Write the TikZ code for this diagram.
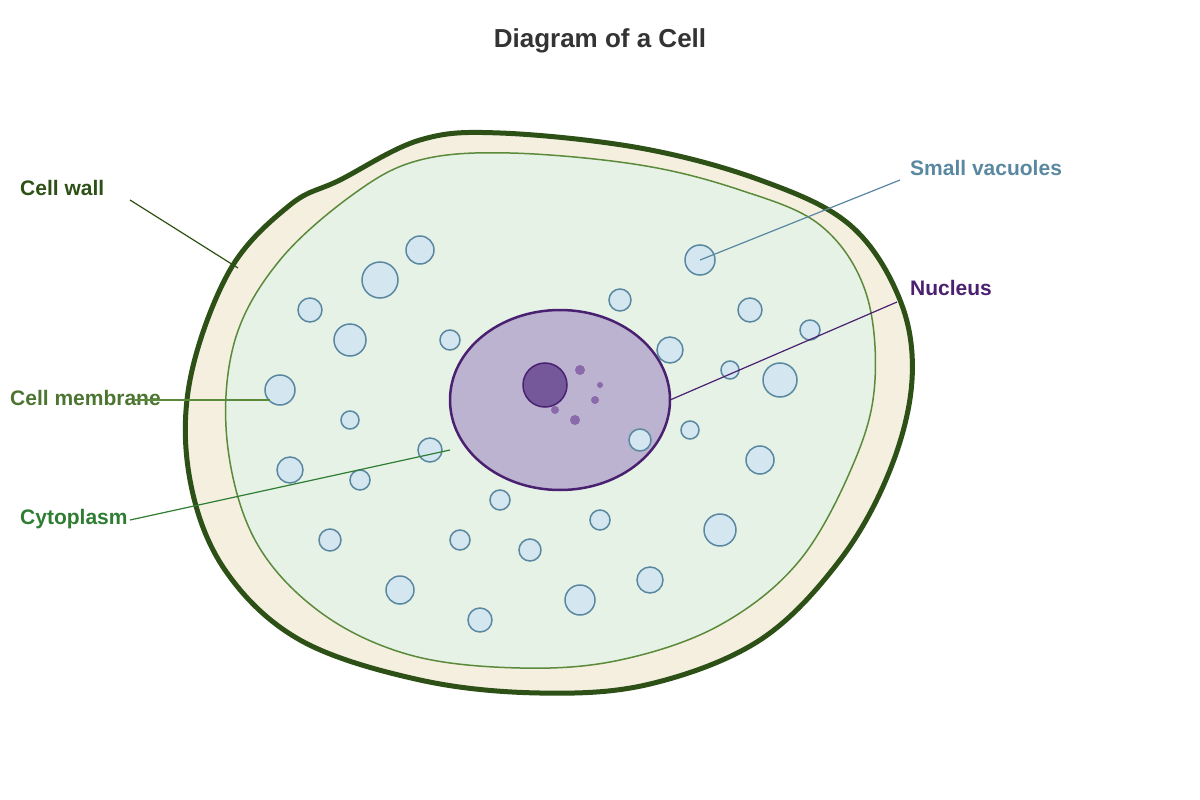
\documentclass[tikz,border=0pt]{standalone}
\usepackage{fontspec}
\usetikzlibrary{shapes.geometric}
\setmainfont{Liberation Sans}
\begin{document}
\begin{tikzpicture}[x=1pt,y=-1pt,
  lab/.style={anchor=west,font=\fontsize{21}{24}\selectfont\bfseries,inner sep=0pt},
  vac/.style={draw=vacS,fill=vacF,line width=1.5pt},
  dot/.style={fill=dotC,draw=none}]
\definecolor{wallC}{HTML}{2D5016}
\definecolor{wallF}{HTML}{F5EFE0}
\definecolor{memC}{HTML}{5A8A3A}
\definecolor{memF}{HTML}{E6F2E6}
\definecolor{vacS}{HTML}{5A88A0}
\definecolor{vacF}{HTML}{D4E6F0}
\definecolor{nucF}{HTML}{BCB3D0}
\definecolor{nucS}{HTML}{4A2070}
\definecolor{nolC}{HTML}{74589A}
\definecolor{dotC}{HTML}{8A6AAA}
\definecolor{cytC}{HTML}{2E7D32}
\useasboundingbox (0,0) rectangle (1200,800);
\node[font=\fontsize{26}{30}\selectfont\bfseries,text=black!80] (title) at (600,41) {Diagram of a Cell};
% wall
\draw[draw=wallC,fill=wallF,line width=5pt] plot[smooth cycle,tension=0.6] coordinates{
 (340,180) (420,140) (500,133) (640,148) (760,180) (850,225) (900,300) (912,380) (890,470) (840,560) (760,640) (650,684) (540,693) (420,680) (300,640) (225,570) (190,480) (190,380) (230,270) (290,205)};
% membrane
\draw[draw=memC,fill=memF,line width=1.5pt] plot[smooth cycle,tension=0.6] coordinates{
 (355,193) (420,160) (510,153) (640,165) (740,190) (820,225) (865,290) (875,380) (855,460) (800,560) (720,625) (620,660) (520,668) (410,655) (320,612) (255,540) (227,440) (235,340) (280,260)};
% vacuoles
\foreach \x/\y/\r [count=\i] in {420/250/14,380/280/18,310/310/12,350/340/16,450/340/10,280/390/15,350/420/9,430/450/12,290/470/13,360/480/10,330/540/11,400/590/14,460/540/10,480/620/12,500/500/10,530/550/11,580/600/15,600/520/10,650/580/13,690/430/9,720/530/16,760/460/14,780/380/17,730/370/9,810/330/10,750/310/12,700/260/15,620/300/11,670/350/13}
  \node[vac,circle,minimum size=2*\r,inner sep=0pt] (v\i) at (\x,\y) {};
% nucleus
\node[draw=nucS,fill=nucF,line width=2.5pt,ellipse,minimum width=220,minimum height=180,inner sep=0pt] (nuc) at (560,400) {};
\node[vac,circle,minimum size=22,inner sep=0pt] (v31) at (640,440) {};
\node[draw=nucS,fill=nolC,line width=1.5pt,circle,minimum size=44,inner sep=0pt] (nol) at (545,385) {};
\foreach \x/\y/\r [count=\i] in {580/370/5,600/385/3,595/400/4,575/420/5,555/410/4}
  \node[dot,circle,minimum size=2*\r,inner sep=0pt] (d\i) at (\x,\y) {};
% labels
\node[lab,text=wallC] (lw) at (20,188) {Cell wall};
\node[lab,text=memC!85!black] (lm) at (10,398) {Cell membrane};
\node[lab,text=cytC] (lc) at (20,519) {Cytoplasm};
\node[lab,text=vacS] (lv) at (910,168) {Small vacuoles};
\node[lab,text=nucS] (ln) at (910,288) {Nucleus};
\coordinate (cw1) at (130,200); \coordinate (cw2) at (238,268);
\coordinate (cm1) at (135,400); \coordinate (cm2) at (270,400);
\coordinate (cc1) at (130,520); \coordinate (cc2) at (450,450);
\coordinate (sv1) at (900,180); \coordinate (sv2) at (700,260);
\coordinate (nu1) at (897,302); \coordinate (nu2) at (670,400);
\draw[wallC,line width=1.2pt] (cw1) -- (cw2);
\draw[memC,line width=1.2pt] (cm1) -- (cm2);
\draw[cytC,line width=1.2pt] (cc1) -- (cc2);
\draw[vacS,line width=1.2pt] (sv1) -- (sv2);
\draw[nucS,line width=1.2pt] (nu1) -- (nu2);
\end{tikzpicture}
\end{document}
